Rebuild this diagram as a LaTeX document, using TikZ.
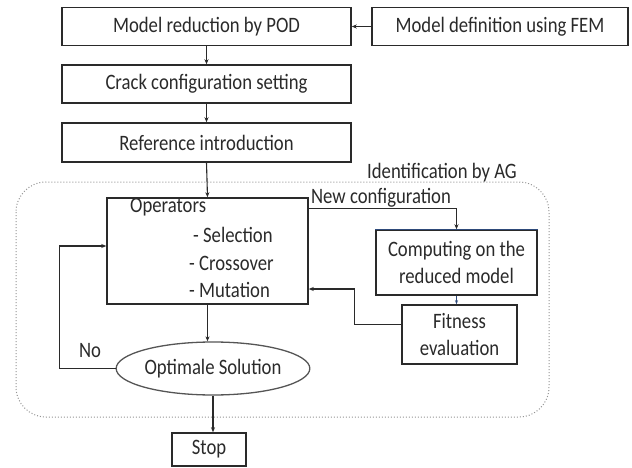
\documentclass[tikz,border=0pt]{standalone}
\usepackage{fontspec}
\setmainfont{Carlito}[FakeStretch=0.85]
\usetikzlibrary{shapes.geometric,arrows.meta,calc}
\definecolor{ink}{HTML}{2A2A2A}
\definecolor{navy}{HTML}{2E4A7A}
\tikzset{
  boxn/.style={draw=ink, line width=1.5pt, rectangle, inner sep=0pt, text=ink, font=\fontsize{22}{24}\selectfont},
  lbl/.style={inner sep=0pt, text=ink, font=\fontsize{22}{24}\selectfont},
  arr/.style={draw=ink, line width=1.1pt, -{Stealth[length=5pt,width=4pt]}},
  frame/.style={draw=gray!85, dotted, line width=1pt, rounded corners=30pt}
}
\begin{document}
\begin{tikzpicture}[x=1pt,y=-1pt]
\useasboundingbox (0,0) rectangle (632,468);
% frame
\draw[frame] (16,182) rectangle (549,417);
\node[lbl] (ag) at (442,173) {Identification by AG};
% top boxes
\node[boxn, minimum width=289pt, minimum height=38pt] (pod) at (206.5,26.5) {Model reduction by POD};
\node[boxn, minimum width=256pt, minimum height=38pt] (fem) at (500,26.5) {Model definition using FEM};
\node[boxn, minimum width=289pt, minimum height=38pt] (crack) at (206.5,84) {Crack configuration setting};
\node[boxn, minimum width=289pt, minimum height=39pt] (ref) at (206.5,142.5) {Reference introduction};
% operators
\node[boxn, minimum width=201pt, minimum height=106pt] (ops) at (207.5,251) {};
\node[lbl, anchor=west] (opt) at (130,207) {Operators};
\node[lbl, anchor=west] (sel) at (193,235) {- Selection};
\node[lbl, anchor=west] (cro) at (189,263) {- Crossover};
\node[lbl, anchor=west] (mut) at (189,290) {- Mutation};
% computing and fitness
\node[boxn, minimum width=161pt, minimum height=65pt, align=center, font=\fontsize{22}{27}\selectfont] (comp) at (456.5,262.5) {Computing on the\\reduced model};
\draw[navy, line width=1.5pt] (comp.north west) -- (comp.north east);
\node[boxn, minimum width=115pt, minimum height=59pt, align=center, font=\fontsize{22}{27}\selectfont] (fit) at (459.5,334.5) {Fitness\\evaluation};
% ellipse and stop
\node[boxn, draw=ink!80, line width=1.3pt, ellipse, minimum width=193pt, minimum height=53pt] (sol) at (213,368.5) {Optimale Solution};
\node[boxn, minimum width=74pt, minimum height=33pt] (stop) at (209,449.5) {Stop};
\node[lbl] (no) at (90,351) {No};
\node[lbl] (newc) at (381,198) {New configuration};
% connectors
\draw[arr] (fem.west) -- (pod.east);
\draw[arr] (pod.south) -- (crack.north);
\draw[arr] (crack.south) -- (ref.north);
\draw[arr] (ref.south) -- (ops.north);
\draw[arr] ([yshift=-11pt]ops.north east) -| (comp.north);
\draw[draw=navy, line width=1.1pt, -{Stealth[length=4pt,width=3pt]}] (comp.south) -- (comp.south |- fit.north);
\draw[arr] ([yshift=10pt]fit.west) -- ++(-47,0) |- ([yshift=-38pt]ops.east);
\draw[arr] (ops.south) -- (ops.south |- sol.north);
\draw[arr] (sol.west) -- ++(-56,0) |- ([yshift=5pt]ops.west);
\draw[arr] (sol.south) -- (sol.south |- stop.north);
\end{tikzpicture}
\end{document}
